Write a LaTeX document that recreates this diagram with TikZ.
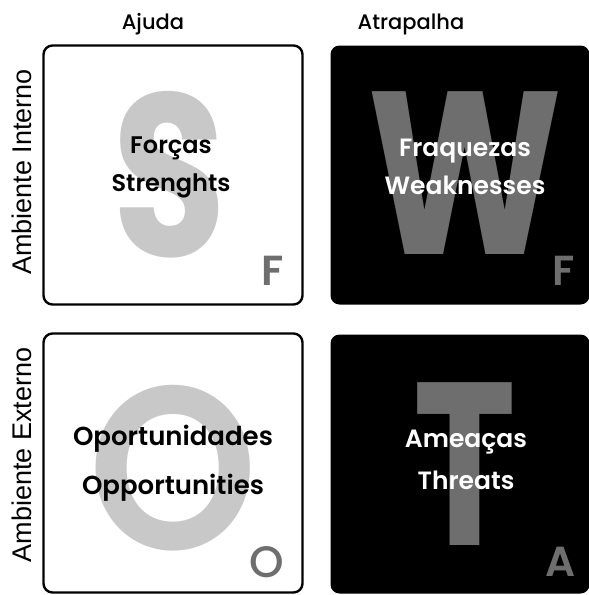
\documentclass[tikz,border=0pt]{standalone}
\usepackage{fontspec}
\setmainfont{Poppins}
\newfontfamily\medio{Poppins Medium}
\newfontfamily\semi{Poppins SemiBold}
\newfontfamily\lateral{Liberation Sans}
\definecolor{cinzaclaro}{HTML}{C8C8C8}
\definecolor{cinzaescuro}{HTML}{6E6E6E}

\begin{document}
\begin{tikzpicture}[
    x=1pt,
    y=-1pt,
    caixa/.style={
        rounded corners=9pt,
        minimum width=259pt,
        minimum height=259pt,
        inner sep=0pt
    },
    clara/.style={caixa, draw=black, line width=2.4pt, fill=white},
    escura/.style={caixa, fill=black},
    letrona/.style={
        anchor=base,
        inner sep=0pt,
        font=\fontsize{232}{232}\selectfont\bfseries
    },
    sigla/.style={
        anchor=base east,
        inner sep=0pt,
        text=cinzaescuro,
        font=\semi\fontsize{42}{42}\selectfont
    },
    texto/.style={
        align=center,
        inner sep=0pt,
        font=\semi\fontsize{24}{38}\selectfont
    },
    titulo/.style={
        anchor=base,
        font=\medio\fontsize{21}{21}\selectfont
    },
    lado/.style={
        rotate=90,
        font=\lateral\fontsize{27}{27}\selectfont
    }
]

\useasboundingbox (0,0) rectangle (589,595);

% quadrantes
\node[clara]  (forcas)        at (173,175) {};
\node[escura] (fraquezas)     at (460,175) {};
\node[clara]  (oportunidades) at (173,463) {};
\node[escura] (ameacas)       at (460,464) {};

% letras de fundo
\node[letrona, text=cinzaclaro, xscale=0.8]   (letraS) at (170,256) {S};
\node[letrona, text=cinzaescuro, xscale=0.8]  (letraW) at (465,254) {W};
\node[letrona, text=cinzaclaro, xscale=0.93, font=\semi\fontsize{232}{232}\selectfont] (letraO) at (173,549) {O};
\node[letrona, text=cinzaescuro, xscale=0.75] (letraT) at (465,545) {T};

% textos
\node[texto] (txtforcas) at (171,167) {Forças\\Strenghts};
\node[texto, text=white, font=\semi\fontsize{25}{38}\selectfont] (txtfraquezas) at (465,167) {Fraquezas\\Weaknesses};
\node[texto, font=\semi\fontsize{26}{49}\selectfont] (txtoport) at (173,463) {Oportunidades\\Opportunities};
\node[texto, text=white, font=\semi\fontsize{25}{42}\selectfont] (txtameacas) at (466,460) {Ameaças\\Threats};

% siglas
\node[sigla] (siglaF1) at (284,285) {F};
\node[sigla] (siglaF2) at (575,285) {F};
\node[sigla, font=\medio\fontsize{44}{44}\selectfont] (siglaO) at (284,577) {O};
\node[sigla] (siglaA)  at (576,576) {A};

% titulos
\node[titulo] (ajuda)     at (153,29) {Ajuda};
\node[titulo] (atrapalha) at (411,29) {Atrapalha};
\node[lado]   (interno)   at (22,172) {Ambiente Interno};
\node[lado]   (externo)   at (22,455) {Ambiente Externo};

\end{tikzpicture}
\end{document}
